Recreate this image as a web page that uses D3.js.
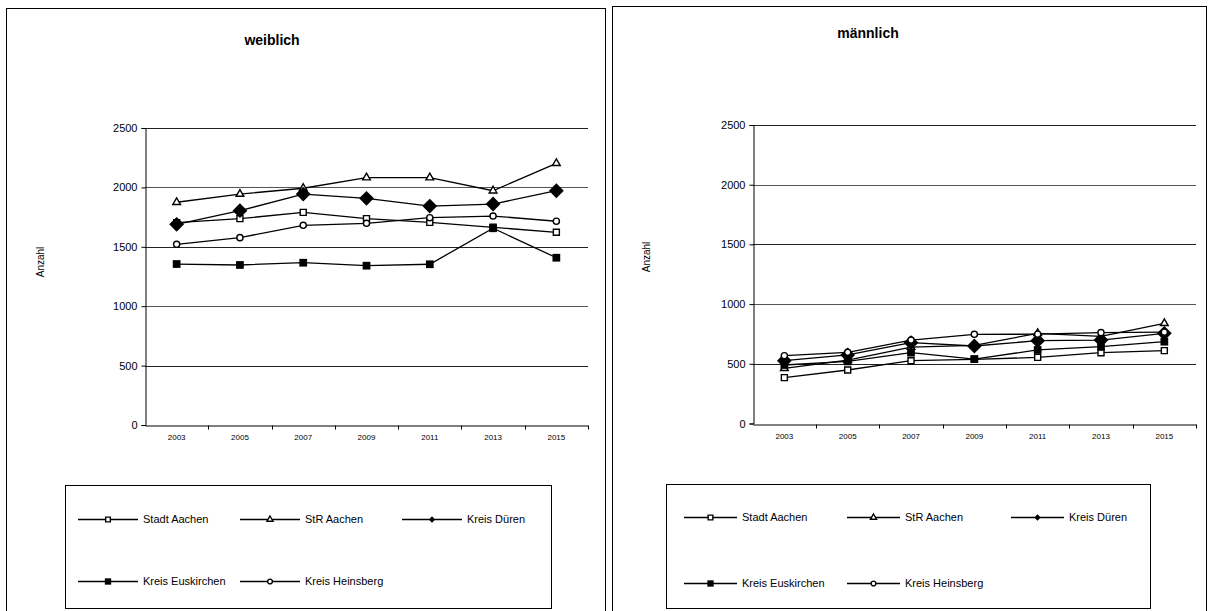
<!DOCTYPE html>
<html><head><meta charset="utf-8">
<script src="https://cdn.jsdelivr.net/npm/d3@7/dist/d3.min.js"></script>
<style>
body{margin:0;background:#fff;}
svg{display:block;font-family:"Liberation Sans",Arial,sans-serif;}
</style></head>
<body><svg id="c" width="1208" height="611"></svg>
<script>
const years = ["2003","2005","2007","2009","2011","2013","2015"];
const yTicks = [0,500,1000,1500,2000,2500];
const seriesNames = ["Stadt Aachen","StR Aachen","Kreis Düren","Kreis Euskirchen","Kreis Heinsberg"];

// weiblich
const wStadtAachen   = [1703,1737,1790,1737,1706,1664,1622];
const wStRAachen     = [1875,1944,1993,2082,2082,1972,2203];
const wKreisDueren   = [1689,1804,1944,1908,1843,1860,1972];
const wKreisEusk     = [1355,1347,1366,1341,1353,1656,1408];
const wKreisHeins    = [1521,1577,1681,1698,1745,1759,1715];
// männlich
const mStadtAachen   = [384,448,526,537,554,593,610];
const mStRAachen     = [462,530,640,655,755,730,839];
const mKreisDueren   = [526,574,677,649,694,699,755];
const mKreisEusk     = [490,520,593,540,616,643,685];
const mKreisHeins    = [568,596,699,747,748,761,765];

const svg = d3.select("#c");
const markerTypes = ["sqOpen","triOpen","diamond","sqFill","circOpen"];

function drawMarker(g, type, x, y, big) {
  const s = g.append("path").attr("transform", `translate(${x},${y})`);
  if (type === "sqOpen") {
    s.attr("d", d3.symbol(d3.symbolSquare, big ? 36 : 22)()).attr("fill","#fff").attr("stroke","#000").attr("stroke-width",1.4);
  } else if (type === "triOpen") {
    s.attr("d", d3.symbol(d3.symbolTriangle, big ? 26 : 16)()).attr("fill","#fff").attr("stroke","#000").attr("stroke-width",1.4);
  } else if (type === "diamond") {
    s.attr("d", d3.symbol(d3.symbolSquare, big ? 110 : 20)()).attr("fill","#000")
     .attr("transform", `translate(${x},${y}) rotate(45)`);
  } else if (type === "sqFill") {
    s.attr("d", d3.symbol(d3.symbolSquare, big ? 60 : 40)()).attr("fill","#000");
  } else {
    s.attr("d", d3.symbol(d3.symbolCircle, big ? 30 : 18)()).attr("fill","#fff").attr("stroke","#000").attr("stroke-width",1.4);
  }
}

function panel(cfg) {
  const g = svg.append("g");
  g.append("rect").attr("x",cfg.fx+0.5).attr("y",cfg.fy+0.5).attr("width",cfg.fw).attr("height",cfg.fh)
    .attr("fill","#fff").attr("stroke","#000").attr("stroke-width",1);
  g.append("text").attr("x",cfg.tx).attr("y",cfg.ty).attr("text-anchor","middle")
    .attr("font-size",14).attr("font-weight","bold").text(cfg.title);

  const x = d3.scaleBand().domain(years).range([cfg.x0, cfg.x1]);
  const y = d3.scaleLinear().domain([0,2500]).range([cfg.y0, cfg.y1]);

  g.append("g").selectAll("line").data(yTicks.filter(d=>d>0)).join("line")
    .attr("x1",cfg.x0).attr("x2",cfg.x1)
    .attr("y1",d=>Math.round(y(d))+0.5).attr("y2",d=>Math.round(y(d))+0.5)
    .attr("stroke",(d,i)=> i%2===0 ? "#222" : "#555").attr("stroke-width",1);

  const ya = g.append("g").attr("transform",`translate(${Math.round(cfg.x0)+0.5},0)`)
    .call(d3.axisLeft(y).tickValues(yTicks).tickSize(4).tickPadding(4).tickFormat(d3.format("d")));
  ya.select(".domain").attr("stroke","#000");
  ya.selectAll("text").attr("font-size",11).attr("font-family","Liberation Sans, Arial").attr("fill","#000");
  const xa = g.append("g").attr("transform",`translate(0,${Math.round(cfg.y0)+0.5})`)
    .call(d3.axisBottom(x).tickSize(0).tickPadding(9));
  xa.select(".domain").attr("stroke","#000");
  xa.selectAll("text").attr("font-size",8).attr("font-family","Liberation Sans, Arial").attr("fill","#000");
  g.append("g").selectAll("line").data(years).join("line")
    .attr("x1",(d,i)=>Math.round(cfg.x0 + x.step()*(i+1))+0.5)
    .attr("x2",(d,i)=>Math.round(cfg.x0 + x.step()*(i+1))+0.5)
    .attr("y1",Math.round(cfg.y0)+0.5).attr("y2",Math.round(cfg.y0)+4.5)
    .attr("stroke","#000");

  g.append("text").attr("transform",`translate(${cfg.ax},${cfg.ay}) rotate(-90)`)
    .attr("text-anchor","middle").attr("font-size",10).attr("fill","#000").text("Anzahl");

  const line = d3.line().x((d,i)=>x(years[i])+x.bandwidth()/2).y(d=>y(d));
  cfg.data.forEach(arr => {
    g.append("path").datum(arr).attr("d",line).attr("fill","none").attr("stroke","#000").attr("stroke-width",1.3);
  });
  cfg.data.forEach((arr,k) => {
    arr.forEach((v,i) => drawMarker(g, markerTypes[k], x(years[i])+x.bandwidth()/2, y(v), true));
  });

  const L = cfg.leg;
  g.append("rect").attr("x",L.x+0.5).attr("y",L.y+0.5).attr("width",L.w).attr("height",L.h)
    .attr("fill","#fff").attr("stroke","#000");
  seriesNames.forEach((name,k) => {
    const col = k % 3, row = Math.floor(k/3);
    const lx = L.x + L.cx[col], ly = L.y + L.ry[row];
    g.append("line").attr("x1",lx).attr("x2",lx+L.lw).attr("y1",ly+0.5).attr("y2",ly+0.5).attr("stroke","#000").attr("stroke-width",1.3);
    drawMarker(g, markerTypes[k], lx+L.lw/2, ly+0.5, false);
    g.append("text").attr("x",lx+L.lw+5).attr("y",ly+4).attr("font-size",11).text(name);
  });
}

panel({
  title:"weiblich", tx:272, ty:45,
  fx:6, fy:8, fw:599, fh:610,
  x0:145, x1:588, y0:425, y1:128,
  ax:44, ay:262,
  data:[wStadtAachen,wStRAachen,wKreisDueren,wKreisEusk,wKreisHeins],
  leg:{x:65, y:485, w:486, h:123, cx:[13,175,337], ry:[34,96], lw:60}
});
panel({
  title:"männlich", tx:868, ty:38,
  fx:612, fy:6, fw:594, fh:610,
  x0:752.7, x1:1196, y0:423.5, y1:125,
  ax:650, ay:257,
  data:[mStadtAachen,mStRAachen,mKreisDueren,mKreisEusk,mKreisHeins],
  leg:{x:666, y:484, w:484, h:124, cx:[18,181,345], ry:[33,99], lw:53}
});
</script></body></html>
